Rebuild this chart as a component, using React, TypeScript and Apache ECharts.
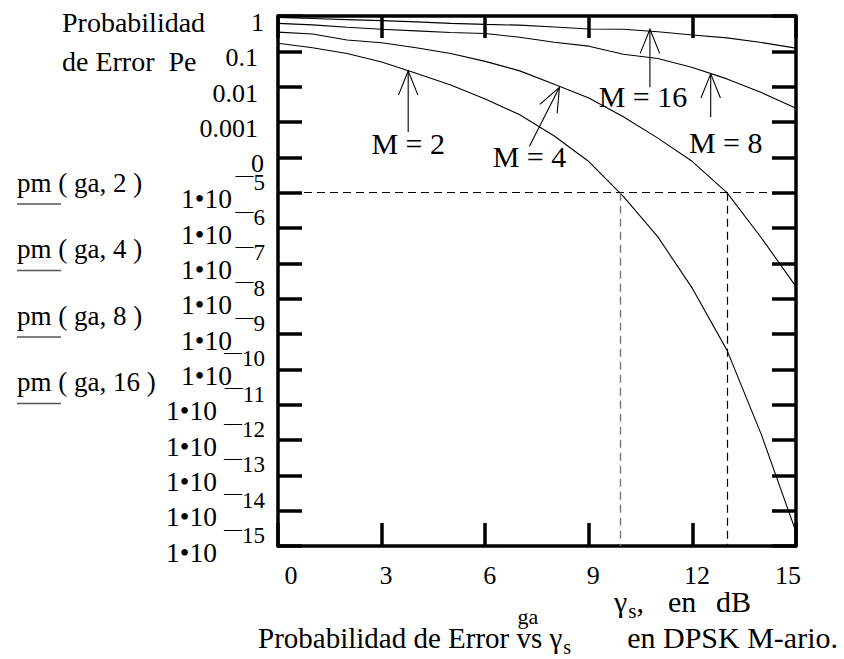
import React, { useEffect, useRef } from "react";
import * as echarts from "echarts";

// Eb/N0 grid (dB) and error probability of M-ary DPSK for each order
const gammaDb = [0, 1, 2, 3, 4, 5, 6, 7, 8, 9, 10, 11, 12, 13, 14, 15];
const peM2 = [0.17, 0.126, 0.087, 0.05, 0.024, 0.0112, 4.5e-3, 1.6e-3, 4.0e-4, 7.6e-5, 7.9e-6, 5.6e-7, 1.95e-8, 3.5e-10, 1.4e-12, 2.5e-15];
const peM4 = [0.35, 0.31, 0.21, 0.175, 0.126, 0.087, 0.052, 0.028, 0.0117, 4.8e-3, 1.4e-3, 3.5e-4, 7.6e-5, 1.0e-5, 5.2e-7, 2.2e-8];
const peM8 = [0.62, 0.56, 0.48, 0.42, 0.38, 0.34, 0.32, 0.25, 0.18, 0.14, 0.083, 0.063, 0.035, 0.0166, 6.8e-3, 2.45e-3];
const peM16 = [0.91, 0.85, 0.79, 0.74, 0.68, 0.62, 0.58, 0.55, 0.49, 0.43, 0.42, 0.36, 0.29, 0.24, 0.178, 0.123];
const curveNames = ["M = 2", "M = 4", "M = 8", "M = 16"];
const curveValues = [peM2, peM4, peM8, peM16];

// axis ticks
const xTickLabels = ["0", "3", "6", "9", "12", "15"];
const yBaseLabels = ["1", "0.1", "0.01", "0.001", "0", "1•10", "1•10", "1•10", "1•10", "1•10", "1•10", "1•10", "1•10", "1•10", "1•10", "1•10"];
const yExpLabels = ["", "", "", "", "", "5", "6", "7", "8", "9", "10", "11", "12", "13", "14", "15"];

// reference level Pe = 1e-5 and where M = 2 and M = 4 reach it
const targetPe = 1e-5;
const crossDbM2 = 9.9;
const crossDbM4 = 13.0;

const legendRows = ["pm ( ga, 2 )", "pm ( ga, 4 )", "pm ( ga, 8 )", "pm ( ga, 16 )"];

// arrow call-outs: tip in data units, tail and label as pixel offsets
const arrowNotes = [
  { label: "M = 2", db: 3.77, pe: 0.0277, tail: [0, 61], text: [0, 11] },
  { label: "M = 4", db: 8.15, pe: 0.0096, tail: [-30, 59], text: [0, 10] },
  { label: "M = 16", db: 10.77, pe: 0.42, tail: [0, 58], text: [-7, 9] },
  { label: "M = 8", db: 12.53, pe: 0.023, tail: [0, 43], text: [15, 26] },
];

const FONT = '"Liberation Serif", "Times New Roman", serif';

export default function App() {
  const ref = useRef<HTMLDivElement>(null);

  useEffect(() => {
    const el = ref.current!;
    const chart = echarts.init(el, null, { renderer: "svg" });
    const decade = (v: number) => Math.round(-Math.log10(v));

    const frameLine = { show: true, onZero: false, lineStyle: { color: "#000", width: 3.5 } };
    const tickStyle = (len: number) => ({ show: true, inside: true, length: len, lineStyle: { color: "#000", width: 3.5 } });
    const logScale = { type: "log" as const, logBase: 10, min: 1e-15, max: 1, interval: 1, splitNumber: 15 };
    const lbl = { fontFamily: FONT, fontSize: 26, color: "#000" };
    const lblPow = { fontFamily: FONT, fontSize: 27.5, color: "#000" };

    const option: any = {
      animation: false,
      backgroundColor: "#fff",
      grid: { left: 278, top: 16, right: 48, bottom: 113, containLabel: false, outerBoundsMode: "none" },
      xAxis: [
        {
          type: "value", min: 0, max: 15, interval: 3, position: "bottom",
          axisLine: frameLine, axisTick: tickStyle(23), splitLine: { show: false },
          axisLabel: {
            margin: 16, hideOverlap: false, showMinLabel: true, showMaxLabel: true, ...lbl,
            formatter: (v: number) => {
              const i = Math.round(v / 3);
              const cls = i === 0 ? "f" : i === 5 ? "l" : "m";
              return `{${cls}|${xTickLabels[i]}}`;
            },
            rich: {
              f: { ...lbl, padding: [0, 0, 0, 26] },
              m: { ...lbl, padding: [0, 0, 0, 9] },
              l: { ...lbl, padding: [0, 16, 0, 0] },
            },
          },
        },
        {
          type: "value", min: 0, max: 15, interval: 3, position: "top",
          axisLine: frameLine, axisTick: tickStyle(22), splitLine: { show: false }, axisLabel: { show: false },
        },
      ],
      yAxis: [
        {
          ...logScale, position: "left",
          axisLine: frameLine, axisTick: tickStyle(24), splitLine: { show: false }, minorTick: { show: false },
          axisLabel: {
            margin: 14, hideOverlap: false, showMinLabel: true, showMaxLabel: true, ...lbl,
            formatter: (v: number) => {
              const i = decade(v);
              const s = yBaseLabels[i];
              if (s === undefined) return "";
              const cls = i === 0 || i === 4 ? "a" : i <= 3 ? "b" : i <= 10 ? "c" : "d";
              return `{${cls}|${s}}`;
            },
            rich: {
              a: { ...lbl, padding: [13, 0, 0, 0] },
              b: { ...lbl, padding: [13, 6, 0, 0] },
              c: { ...lblPow, padding: [12, 32, 0, 0] },
              d: { ...lblPow, padding: [12, 47, 0, 0] },
            },
          },
        },
        {
          ...logScale, position: "left",
          axisLine: { show: false }, axisTick: { show: false }, splitLine: { show: false },
          axisLabel: {
            margin: 13, hideOverlap: false, showMinLabel: true, showMaxLabel: true, ...lbl,
            formatter: (v: number) => {
              const s = yExpLabels[decade(v)];
              return s ? `{m|—}{n|${s}}` : "";
            },
            rich: {
              m: { fontFamily: FONT, fontSize: 18, color: "#000", padding: [0, 0, 35, 0] },
              n: { fontFamily: FONT, fontSize: 23, color: "#000", padding: [0, 0, 21, 0] },
            },
          },
        },
        {
          ...logScale, position: "right",
          axisLine: frameLine, axisTick: tickStyle(24), splitLine: { show: false }, axisLabel: { show: false },
        },
      ],
      series: curveValues.map((vals, k) => ({
        type: "line",
        name: curveNames[k],
        xAxisIndex: 0,
        yAxisIndex: 0,
        data: gammaDb.map((g, i) => [g, vals[i]]),
        symbol: "none",
        showSymbol: false,
        silent: true,
        clip: true,
        lineStyle: { color: "#000", width: 1.1 },
        markLine: k === 0 ? {
          silent: true,
          symbol: ["none", "none"],
          label: { show: false },
          lineStyle: { color: "#000", width: 1.2, type: [8, 5] },
          data: [
            [{ coord: [0, targetPe] }, { coord: [15, targetPe] }],
            [{ coord: [crossDbM2, targetPe], lineStyle: { color: "#777", width: 1.4, type: [8, 5] } }, { coord: [crossDbM2, 1e-15] }],
            [{ coord: [crossDbM4, targetPe] }, { coord: [crossDbM4, 1e-15] }],
          ],
        } : undefined,
      })),
    };
    chart.setOption(option);

    // text layout helpers
    const ctx = document.createElement("canvas").getContext("2d")!;
    const measure = (s: string, size: number) => {
      ctx.font = `${size}px ${FONT}`;
      return ctx.measureText(s).width;
    };
    const txt = (s: string, x: number, baseline: number, size: number, align = "left", color = "#000") => ({
      type: "text",
      x,
      y: baseline - 0.34 * size,
      silent: true,
      style: { text: s, font: `${size}px ${FONT}`, fill: color, align, verticalAlign: "middle" },
    });

    const graphics: any[] = [];

    // y-axis caption
    graphics.push(txt("Probabilidad", 62, 32, 28));
    graphics.push(txt("de Error\u00a0\u00a0Pe", 62, 71, 28));

    // trace legend
    legendRows.forEach((s, i) => {
      const b = 192 + i * 66.5;
      graphics.push(txt(s, 17, b, 27));
      graphics.push({ type: "line", silent: true, shape: { x1: 17, y1: b + 12, x2: 61, y2: b + 12 }, style: { stroke: "#555", lineWidth: 1.5 } });
    });

    // x-axis name
    {
      const b = 612;
      let x = 614;
      graphics.push(txt("γ", x, b, 30));
      x += measure("γ", 30) + 1;
      graphics.push(txt("s", x, b + 6, 21));
      x += measure("s", 21);
      graphics.push(txt(",", x, b, 30));
      graphics.push(txt("en", 668, b, 30));
      graphics.push(txt("dB", 716, b, 30));
    }

    // caption line
    {
      let x = 258;
      const b = 648;
      graphics.push(txt("Probabilidad de Error\u00a0", x, b, 29));
      x += measure("Probabilidad de Error\u00a0", 29);
      graphics.push(txt("ga", x + 1, b - 24, 22));
      graphics.push(txt("vs\u00a0", x, b, 29));
      x += measure("vs\u00a0", 29);
      graphics.push(txt("γ", x, b, 29));
      x += measure("γ", 29) + 1;
      graphics.push(txt("s", x, b + 6, 20));
      graphics.push(txt("en DPSK M-ario.", 838, b, 30, "right"));
    }

    // call-out arrows
    const headLen = 26;
    const headAng = (22 * Math.PI) / 180;
    arrowNotes.forEach((a) => {
      const [tx, ty] = chart.convertToPixel({ xAxisIndex: 0, yAxisIndex: 0 }, [a.db, a.pe]) as number[];
      const ex = tx + a.tail[0];
      const ey = ty + a.tail[1];
      const len = Math.hypot(a.tail[0], a.tail[1]);
      const ux = a.tail[0] / len;
      const uy = a.tail[1] / len;
      const rot = (s: number) => [
        tx + headLen * (ux * Math.cos(s * headAng) - uy * Math.sin(s * headAng)),
        ty + headLen * (ux * Math.sin(s * headAng) + uy * Math.cos(s * headAng)),
      ];
      graphics.push({ type: "line", silent: true, shape: { x1: tx, y1: ty, x2: ex, y2: ey }, style: { stroke: "#000", lineWidth: 1.1 } });
      graphics.push({ type: "polyline", silent: true, shape: { points: [rot(1), [tx, ty], rot(-1)] }, style: { stroke: "#000", lineWidth: 1.1, fill: null } });
      graphics.push({
        type: "text",
        silent: true,
        x: ex + a.text[0],
        y: ey + a.text[1],
        style: { text: a.label, font: `30px ${FONT}`, fill: "#000", align: "center", verticalAlign: "middle" },
      });
    });

    chart.setOption({ graphic: graphics });

    return () => chart.dispose();
  }, []);

  return <div ref={ref} style={{ position: "fixed", left: 0, top: 0, width: 844, height: 659, background: "#fff" }} />;
}
